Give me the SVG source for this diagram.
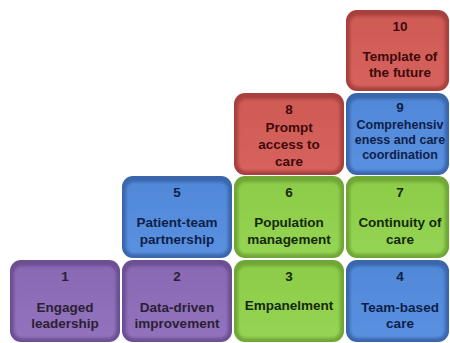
<svg xmlns="http://www.w3.org/2000/svg" width="450" height="343" viewBox="0 0 450 343">
<defs>
<filter id="soft" x="-10%" y="-10%" width="120%" height="120%"><feGaussianBlur stdDeviation="1.6"/></filter>
<linearGradient id="gP" x1="0" y1="0" x2="0" y2="1"><stop offset="0" stop-color="#8a69b4"/><stop offset="1" stop-color="#9272bd"/></linearGradient>
<linearGradient id="gB" x1="0" y1="0" x2="0" y2="1"><stop offset="0" stop-color="#5088d8"/><stop offset="1" stop-color="#5a90e0"/></linearGradient>
<linearGradient id="gG" x1="0" y1="0" x2="0" y2="1"><stop offset="0" stop-color="#8ccc48"/><stop offset="1" stop-color="#95d454"/></linearGradient>
<linearGradient id="gR" x1="0" y1="0" x2="0" y2="1"><stop offset="0" stop-color="#cf5a55"/><stop offset="1" stop-color="#d6625d"/></linearGradient>
</defs>
<style>
text{font-family:"Liberation Sans",Arial,sans-serif;font-weight:bold;font-size:13.5px;text-anchor:middle}
.sm{font-size:12.5px}
.p .rim{fill:#6c4f93}.p .face{fill:url(#gP)}.p text{fill:#2a2133}
.b .rim{fill:#3a66ab}.b .face{fill:url(#gB)}.b text{fill:#0e1f4a}
.g .rim{fill:#6fa636}.g .face{fill:url(#gG)}.g text{fill:#14290a}
.r .rim{fill:#a8403d}.r .face{fill:url(#gR)}.r text{fill:#3e0a0a}
.face{filter:url(#soft)}
</style>
<rect width="450" height="343" fill="#ffffff"/>
<g id="connectors"/>
<g id="node1" class="p"><rect class="rim" x="10" y="260" width="110" height="82" rx="11"/><rect class="face" x="14" y="266" width="102" height="72" rx="8"/>
<text x="65" y="281">1</text><text x="65" y="312">Engaged</text><text x="65" y="328">leadership</text></g>
<g id="node2" class="p"><rect class="rim" x="122" y="260" width="110" height="82" rx="11"/><rect class="face" x="126" y="266" width="102" height="72" rx="8"/>
<text x="177" y="281">2</text><text x="177" y="312">Data-driven</text><text x="177" y="328">improvement</text></g>
<g id="node3" class="g"><rect class="rim" x="234" y="260" width="110" height="82" rx="11"/><rect class="face" x="238" y="266" width="102" height="72" rx="8"/>
<text x="289" y="281">3</text><text x="289" y="310">Empanelment</text></g>
<g id="node4" class="b"><rect class="rim" x="346" y="260" width="103" height="82" rx="11"/><rect class="face" x="350" y="266" width="95" height="72" rx="8"/>
<text x="400" y="281">4</text><text x="400" y="312">Team-based</text><text x="400" y="328">care</text></g>
<g id="node5" class="b"><rect class="rim" x="122" y="176" width="110" height="82" rx="11"/><rect class="face" x="126" y="182" width="102" height="72" rx="8"/>
<text x="177" y="197">5</text><text x="177" y="227">Patient-team</text><text x="177" y="244">partnership</text></g>
<g id="node6" class="g"><rect class="rim" x="234" y="176" width="110" height="82" rx="11"/><rect class="face" x="238" y="182" width="102" height="72" rx="8"/>
<text x="289" y="197">6</text><text x="289" y="227">Population</text><text x="289" y="244">management</text></g>
<g id="node7" class="g"><rect class="rim" x="346" y="176" width="103" height="82" rx="11"/><rect class="face" x="350" y="182" width="95" height="72" rx="8"/>
<text x="400" y="197">7</text><text x="400" y="227">Continuity of</text><text x="400" y="244">care</text></g>
<g id="node8" class="r"><rect class="rim" x="234" y="93" width="110" height="82" rx="11"/><rect class="face" x="238" y="99" width="102" height="72" rx="8"/>
<text x="289" y="114">8</text><text x="289" y="132">Prompt</text><text x="289" y="149">access to</text><text x="289" y="166">care</text></g>
<g id="node9" class="b"><rect class="rim" x="346" y="93" width="103" height="82" rx="11"/><rect class="face" x="350" y="99" width="95" height="72" rx="8"/>
<text x="400" y="112">9</text><text class="sm" x="400" y="129">Comprehensiv</text><text class="sm" x="400" y="144">eness and care</text><text class="sm" x="400" y="159">coordination</text></g>
<g id="node10" class="r"><rect class="rim" x="346" y="10" width="103" height="81" rx="11"/><rect class="face" x="350" y="16" width="95" height="71" rx="8"/>
<text x="400" y="31">10</text><text x="400" y="61">Template of</text><text x="400" y="77">the future</text></g>
</svg>
